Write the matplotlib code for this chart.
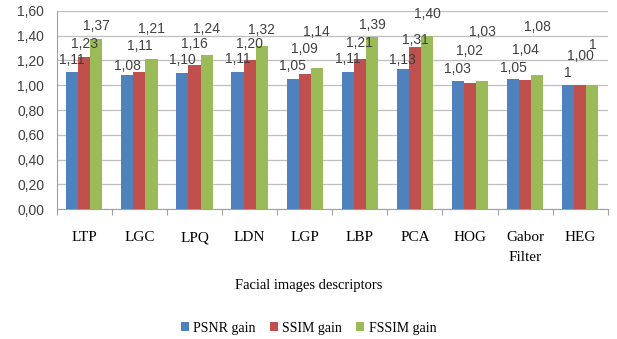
import matplotlib.pyplot as plt
import numpy as np

# data
categories = ['LTP', 'LGC', 'LPQ', 'LDN', 'LGP', 'LBP', 'PCA', 'HOG', 'Gabor\nFilter', 'HEG']
psnr = [1.11, 1.08, 1.10, 1.11, 1.05, 1.11, 1.13, 1.03, 1.05, 1.00]
ssim = [1.23, 1.11, 1.16, 1.20, 1.09, 1.21, 1.31, 1.02, 1.04, 1.00]
fssim = [1.37, 1.21, 1.24, 1.32, 1.14, 1.39, 1.40, 1.03, 1.08, 1.00]
psnr_labels = ['1,11', '1,08', '1,10', '1,11', '1,05', '1,11', '1,13', '1,03', '1,05', '1']
ssim_labels = ['1,23', '1,11', '1,16', '1,20', '1,09', '1,21', '1,31', '1,02', '1,04', '1,00']
fssim_labels = ['1,37', '1,21', '1,24', '1,32', '1,14', '1,39', '1,40', '1,03', '1,08', '1']
series_names = ['PSNR gain', 'SSIM gain', 'FSSIM gain']
colors = ['#4F81BD', '#C0504D', '#9BBB59']

# label offsets above bar tops (pixels), labels were moved by hand in the original
psnr_off = [12, 9, 13, 13, 13, 13, 9, 12, 11, 12]
ssim_off = [13, 26, 21, 16, 25, 16, 7, 32, 30, 29]
fssim_off = [13, 30, 26, 16, 36, 12, 22, 49, 48, 40]

fig = plt.figure(figsize=(6.17, 3.39), dpi=100)
ax = fig.add_axes([0.092, 0.383, 0.893, 0.585])

x = np.arange(len(categories))
w = 0.22
series = [psnr, ssim, fssim]
labels = [psnr_labels, ssim_labels, fssim_labels]
offsets = [psnr_off, ssim_off, fssim_off]
for i in range(3):
	pos = x + (i - 1) * w
	ax.bar(pos, series[i], width=w, color=colors[i], label=series_names[i], zorder=3)
	for p, v, t, o in zip(pos, series[i], labels[i], offsets[i]):
		ax.annotate(t, (p, v), xytext=(0, o), textcoords='offset pixels',
			ha='center', va='center', fontsize=10, color='#404040',
			family='Liberation Sans', zorder=4)

ax.set_xlim(-0.5, len(categories) - 0.5)
ax.set_ylim(0, 1.6)
yt = np.arange(0, 1.61, 0.2)
ax.set_yticks(yt)
ax.set_yticklabels(['{:.2f}'.format(v).replace('.', ',') for v in yt],
	fontsize=10, family='Liberation Sans', color='#404040')
ax.yaxis.grid(True, color='#BFBFBF', linewidth=0.9, zorder=0)
ax.tick_params(axis='y', length=0, pad=9)

# category labels between boundary ticks, first lines share a baseline
ax.set_xticks(np.arange(-0.5, len(categories), 1.0))
ax.set_xticklabels([])
ax.tick_params(axis='x', length=4, color='#A0A0A0', direction='out')
for xi, c in zip(x, categories):
	lines = c.split('\n')
	for k, ln in enumerate(lines):
		ax.annotate(ln, (xi, 0), xytext=(0, -32 - 20 * k), textcoords='offset pixels',
			ha='center', va='baseline', fontsize=11,
			family='Liberation Serif', annotation_clip=False)

for s in ['top', 'right']:
	ax.spines[s].set_visible(False)
ax.spines['left'].set_color('#A0A0A0')
ax.spines['bottom'].set_color('#A0A0A0')

fig.text(0.5, 0.158, 'Facial images descriptors', ha='center', va='center',
	fontsize=10.5, family='Liberation Serif')
fig.legend(loc='center', bbox_to_anchor=(0.5, 0.032), ncol=3, frameon=False,
	prop={'family': 'Liberation Serif', 'size': 10}, handlelength=0.6,
	handleheight=0.6, handletextpad=0.3, columnspacing=1.0)

fig.savefig('out.png', dpi=100)
